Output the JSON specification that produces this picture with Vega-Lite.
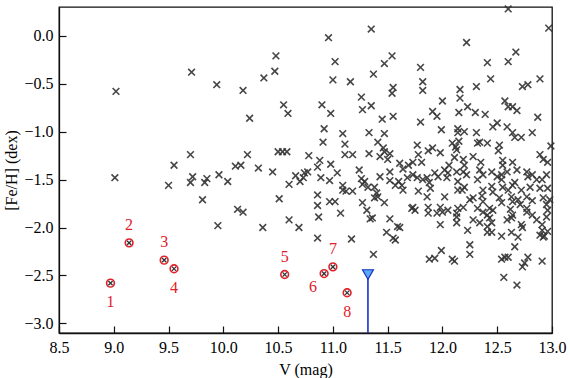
{
 "$schema": "https://vega.github.io/schema/vega-lite/v6.json",
 "width": 493, "height": 326,
 "autosize": {"type": "none"},
 "padding": {"left": 59, "top": 7, "right": 18, "bottom": 45},
 "background": "white",
 "config": {
  "view": {"stroke": "#111111", "strokeWidth": 1.3},
  "font": "Times New Roman, Liberation Serif, serif",
  "axis": {"grid": false, "domain": true, "domainColor": "#111111", "domainWidth": 1.3, "tickColor": "#111111", "tickSize": -7, "tickWidth": 1.2, "labelFontSize": 16, "labelColor": "#000000", "labelPadding": 13, "titleFontSize": 16, "titleFontWeight": "normal", "titleColor": "#000000", "labelFont": "Times New Roman, Liberation Serif, serif", "titleFont": "Times New Roman, Liberation Serif, serif"}
 },
 "datasets": {
  "stars": [
   {"V":9.02,"FeH":-0.58},{"V":9.01,"FeH":-1.48},{"V":9.71,"FeH":-0.38},{"V":9.55,"FeH":-1.35},{"V":9.70,"FeH":-1.24},{"V":9.50,"FeH":-1.56},{"V":9.72,"FeH":-1.47},{"V":9.70,"FeH":-1.53},{"V":9.94,"FeH":-0.51},{"V":10.18,"FeH":-0.57},
   {"V":10.37,"FeH":-0.44},{"V":10.47,"FeH":-0.37},{"V":10.48,"FeH":-0.21},{"V":10.24,"FeH":-0.86},{"V":10.55,"FeH":-0.72},{"V":10.59,"FeH":-0.81},{"V":10.96,"FeH":-0.02},{"V":11.02,"FeH":-0.27},{"V":11.00,"FeH":-0.46},{"V":11.16,"FeH":-0.48},
   {"V":11.35,"FeH":0.07},{"V":11.37,"FeH":-0.40},{"V":11.26,"FeH":-0.64},{"V":11.27,"FeH":-0.77},{"V":11.35,"FeH":-0.73},{"V":10.90,"FeH":-0.72},{"V":10.98,"FeH":-0.81},{"V":10.92,"FeH":-0.97},{"V":10.91,"FeH":-1.11},{"V":11.09,"FeH":-1.02},
   {"V":11.11,"FeH":-1.13},{"V":11.33,"FeH":-1.01},{"V":11.11,"FeH":-1.24},{"V":11.18,"FeH":-1.24},{"V":11.33,"FeH":-1.23},{"V":11.41,"FeH":-1.11},{"V":10.22,"FeH":-1.24},{"V":10.11,"FeH":-1.36},{"V":10.16,"FeH":-1.35},{"V":10.32,"FeH":-1.38},
   {"V":10.45,"FeH":-1.42},{"V":10.50,"FeH":-1.21},{"V":10.54,"FeH":-1.21},{"V":10.58,"FeH":-1.21},{"V":10.78,"FeH":-1.25},{"V":10.88,"FeH":-1.30},{"V":10.86,"FeH":-1.37},{"V":10.98,"FeH":-1.34},{"V":11.04,"FeH":-1.43},{"V":11.24,"FeH":-1.40},
   {"V":9.83,"FeH":-1.53},{"V":9.85,"FeH":-1.49},{"V":9.96,"FeH":-1.45},{"V":10.04,"FeH":-1.52},{"V":10.60,"FeH":-1.55},{"V":10.66,"FeH":-1.46},{"V":10.70,"FeH":-1.52},{"V":10.74,"FeH":-1.43},{"V":10.73,"FeH":-1.48},{"V":10.77,"FeH":-1.42},
   {"V":10.89,"FeH":-1.48},{"V":10.97,"FeH":-1.51},{"V":11.09,"FeH":-1.56},{"V":11.26,"FeH":-1.49},{"V":11.29,"FeH":-1.52},{"V":9.81,"FeH":-1.71},{"V":10.13,"FeH":-1.81},{"V":10.18,"FeH":-1.84},{"V":9.95,"FeH":-1.98},{"V":10.36,"FeH":-2.00},
   {"V":10.51,"FeH":-1.70},{"V":10.60,"FeH":-1.92},{"V":10.69,"FeH":-2.00},{"V":10.86,"FeH":-1.66},{"V":10.86,"FeH":-1.77},{"V":10.87,"FeH":-1.89},{"V":10.86,"FeH":-2.11},{"V":10.97,"FeH":-1.73},{"V":11.02,"FeH":-1.73},{"V":11.07,"FeH":-1.85},
   {"V":11.17,"FeH":-2.12},{"V":11.27,"FeH":-1.74},{"V":11.31,"FeH":-1.82},{"V":11.34,"FeH":-1.91},{"V":11.37,"FeH":-2.28},{"V":11.12,"FeH":-1.62},{"V":11.09,"FeH":-1.61},{"V":11.18,"FeH":-1.62},{"V":11.27,"FeH":-1.55},{"V":11.32,"FeH":-1.58},
   {"V":11.45,"FeH":-0.87},{"V":11.55,"FeH":-0.84},{"V":11.91,"FeH":-0.79},{"V":11.95,"FeH":-0.84},{"V":11.80,"FeH":-0.90},{"V":11.99,"FeH":-0.98},{"V":11.47,"FeH":-1.02},{"V":12.14,"FeH":-1.01},{"V":11.46,"FeH":-1.17},{"V":11.47,"FeH":-1.21},
   {"V":11.77,"FeH":-1.14},{"V":11.43,"FeH":-1.26},{"V":11.52,"FeH":-1.23},{"V":11.50,"FeH":-1.29},{"V":11.87,"FeH":-1.20},{"V":11.91,"FeH":-1.17},{"V":11.98,"FeH":-1.22},{"V":11.78,"FeH":-1.24},{"V":11.81,"FeH":-1.32},{"V":11.73,"FeH":-1.32},
   {"V":11.69,"FeH":-1.35},{"V":11.61,"FeH":-1.33},{"V":11.64,"FeH":-1.39},{"V":12.09,"FeH":-1.12},{"V":12.13,"FeH":-1.19},{"V":12.11,"FeH":-1.27},{"V":12.06,"FeH":-1.35},{"V":12.02,"FeH":-1.40},{"V":12.13,"FeH":-1.42},{"V":11.52,"FeH":-1.42},
   {"V":11.52,"FeH":-1.51},{"V":11.43,"FeH":-1.47},{"V":11.73,"FeH":-1.45},{"V":11.77,"FeH":-1.48},{"V":11.82,"FeH":-1.50},{"V":11.86,"FeH":-1.48},{"V":11.88,"FeH":-1.53},{"V":11.89,"FeH":-1.59},{"V":11.93,"FeH":-1.43},{"V":11.96,"FeH":-1.47},
   {"V":12.04,"FeH":-1.48},{"V":12.05,"FeH":-1.43},{"V":11.60,"FeH":-1.52},{"V":11.63,"FeH":-1.56},{"V":11.64,"FeH":-1.61},{"V":11.57,"FeH":-1.56},{"V":11.68,"FeH":-1.48},{"V":12.14,"FeH":-1.52},{"V":12.14,"FeH":-1.61},{"V":11.38,"FeH":-1.58},
   {"V":11.40,"FeH":-1.64},{"V":11.41,"FeH":-1.68},{"V":11.38,"FeH":-1.69},{"V":11.47,"FeH":-1.74},{"V":11.78,"FeH":-1.62},{"V":11.86,"FeH":-1.68},{"V":11.87,"FeH":-1.79},{"V":12.02,"FeH":-1.68},{"V":11.73,"FeH":-1.79},{"V":11.75,"FeH":-1.82},
   {"V":11.98,"FeH":-1.79},{"V":11.95,"FeH":-1.85},{"V":12.00,"FeH":-1.84},{"V":12.05,"FeH":-1.82},{"V":12.13,"FeH":-1.85},{"V":11.36,"FeH":-1.90},{"V":11.52,"FeH":-1.91},{"V":11.59,"FeH":-1.99},{"V":11.61,"FeH":-2.00},{"V":11.49,"FeH":-2.05},
   {"V":11.98,"FeH":-1.97},{"V":12.13,"FeH":-1.95},{"V":11.55,"FeH":-2.11},{"V":11.54,"FeH":-0.21},{"V":11.47,"FeH":-0.29},{"V":11.80,"FeH":-0.33},{"V":11.82,"FeH":-0.48},{"V":11.82,"FeH":-0.57},{"V":11.55,"FeH":-0.54},{"V":11.54,"FeH":-0.60},
   {"V":12.00,"FeH":-0.68},{"V":12.16,"FeH":-0.56},{"V":12.16,"FeH":-0.65},{"V":12.15,"FeH":-0.80},{"V":12.14,"FeH":-0.97},{"V":12.15,"FeH":-1.10},{"V":12.12,"FeH":-1.16},
   {"V":12.60,"FeH":0.28},{"V":12.97,"FeH":0.08},{"V":12.22,"FeH":-0.07},{"V":12.67,"FeH":-0.17},{"V":12.41,"FeH":-0.28},{"V":12.60,"FeH":-0.27},{"V":12.44,"FeH":-0.45},{"V":12.31,"FeH":-0.53},{"V":12.89,"FeH":-0.45},{"V":12.78,"FeH":-0.51},
   {"V":12.73,"FeH":-0.53},{"V":12.57,"FeH":-0.68},{"V":12.60,"FeH":-0.74},{"V":12.64,"FeH":-0.74},{"V":12.68,"FeH":-0.78},{"V":12.23,"FeH":-0.74},{"V":12.30,"FeH":-0.80},{"V":12.39,"FeH":-0.82},{"V":12.87,"FeH":-0.85},{"V":12.20,"FeH":-1.00},
   {"V":12.31,"FeH":-1.01},{"V":12.50,"FeH":-0.91},{"V":12.46,"FeH":-0.95},{"V":12.59,"FeH":-0.95},{"V":12.64,"FeH":-1.01},{"V":12.66,"FeH":-1.06},{"V":12.72,"FeH":-1.06},{"V":12.82,"FeH":-1.01},{"V":12.34,"FeH":-1.11},{"V":12.41,"FeH":-1.12},
   {"V":12.52,"FeH":-1.14},{"V":12.99,"FeH":-1.15},{"V":12.51,"FeH":-1.20},{"V":12.32,"FeH":-1.12},{"V":12.19,"FeH":-1.29},{"V":12.20,"FeH":-1.35},{"V":12.28,"FeH":-1.26},{"V":12.35,"FeH":-1.32},{"V":12.55,"FeH":-1.30},{"V":12.55,"FeH":-1.35},
   {"V":12.64,"FeH":-1.32},{"V":12.89,"FeH":-1.24},{"V":12.92,"FeH":-1.29},{"V":12.96,"FeH":-1.32},{"V":12.19,"FeH":-1.42},{"V":12.22,"FeH":-1.45},{"V":12.34,"FeH":-1.40},{"V":12.37,"FeH":-1.45},{"V":12.32,"FeH":-1.50},{"V":12.45,"FeH":-1.42},
   {"V":12.50,"FeH":-1.47},{"V":12.54,"FeH":-1.45},{"V":12.54,"FeH":-1.50},{"V":12.59,"FeH":-1.42},{"V":12.68,"FeH":-1.40},{"V":12.77,"FeH":-1.42},{"V":12.78,"FeH":-1.47},{"V":12.82,"FeH":-1.45},{"V":12.86,"FeH":-1.50},{"V":12.91,"FeH":-1.50},
   {"V":12.95,"FeH":-1.45},{"V":12.66,"FeH":-1.53},{"V":12.64,"FeH":-1.56},{"V":12.20,"FeH":-1.58},{"V":12.18,"FeH":-1.61},{"V":12.37,"FeH":-1.61},{"V":12.45,"FeH":-1.57},{"V":12.46,"FeH":-1.63},{"V":12.55,"FeH":-1.58},{"V":12.60,"FeH":-1.61},
   {"V":12.72,"FeH":-1.61},{"V":12.80,"FeH":-1.58},{"V":12.89,"FeH":-1.59},{"V":12.96,"FeH":-1.59},{"V":12.28,"FeH":-1.69},{"V":12.25,"FeH":-1.71},{"V":12.36,"FeH":-1.67},{"V":12.37,"FeH":-1.73},{"V":12.52,"FeH":-1.69},{"V":12.54,"FeH":-1.74},
   {"V":12.63,"FeH":-1.68},{"V":12.64,"FeH":-1.73},{"V":12.69,"FeH":-1.71},{"V":12.77,"FeH":-1.68},{"V":12.82,"FeH":-1.72},{"V":12.92,"FeH":-1.69},{"V":12.95,"FeH":-1.76},{"V":12.19,"FeH":-1.79},{"V":12.32,"FeH":-1.80},{"V":12.37,"FeH":-1.84},
   {"V":12.46,"FeH":-1.82},{"V":12.62,"FeH":-1.81},{"V":12.64,"FeH":-1.87},{"V":12.77,"FeH":-1.84},{"V":12.82,"FeH":-1.87},{"V":12.95,"FeH":-1.89},{"V":12.96,"FeH":-1.82},{"V":12.28,"FeH":-1.92},{"V":12.34,"FeH":-1.95},{"V":12.43,"FeH":-1.90},
   {"V":12.45,"FeH":-1.95},{"V":12.59,"FeH":-1.92},{"V":12.72,"FeH":-1.97},{"V":12.73,"FeH":-2.00},{"V":12.86,"FeH":-1.92},{"V":12.91,"FeH":-1.97},{"V":12.23,"FeH":-2.03},{"V":12.41,"FeH":-2.05},{"V":12.54,"FeH":-2.09},{"V":12.63,"FeH":-2.05},
   {"V":12.89,"FeH":-2.08},{"V":12.93,"FeH":-2.09},{"V":12.96,"FeH":-2.04},{"V":11.72,"FeH":-1.80},{"V":11.87,"FeH":-1.85},{"V":12.14,"FeH":-1.80},{"V":12.13,"FeH":-1.89},{"V":12.41,"FeH":-1.87},{"V":12.43,"FeH":-1.80},{"V":12.41,"FeH":-1.99},
   {"V":12.45,"FeH":-2.05},{"V":12.63,"FeH":-1.90},{"V":12.71,"FeH":-1.76},{"V":12.77,"FeH":-1.80},{"V":12.91,"FeH":-2.03},{"V":12.92,"FeH":-2.10},{"V":12.98,"FeH":-1.71},{"V":11.57,"FeH":-2.13},{"V":12.66,"FeH":-2.20},{"V":12.25,"FeH":-2.18},
   {"V":12.25,"FeH":-2.28},{"V":11.88,"FeH":-2.33},{"V":11.93,"FeH":-2.32},{"V":11.99,"FeH":-2.24},{"V":12.09,"FeH":-2.33},{"V":12.11,"FeH":-2.35},{"V":12.54,"FeH":-2.33},{"V":12.57,"FeH":-2.31},{"V":12.60,"FeH":-2.31},{"V":12.56,"FeH":-2.52},
   {"V":12.68,"FeH":-2.60},{"V":12.73,"FeH":-2.41},{"V":12.75,"FeH":-2.37},{"V":12.78,"FeH":-2.31},{"V":12.91,"FeH":-2.35},{"V":12.69,"FeH":-2.10}
  ],
  "red": [
   {"id":1,"label":"1","V":8.97,"FeH":-2.58},
   {"id":2,"label":"2","V":9.14,"FeH":-2.16},
   {"id":3,"label":"3","V":9.46,"FeH":-2.34},
   {"id":4,"label":"4","V":9.55,"FeH":-2.43},
   {"id":5,"label":"5","V":10.56,"FeH":-2.49},
   {"id":6,"label":"6","V":10.92,"FeH":-2.48},
   {"id":7,"label":"7","V":11.00,"FeH":-2.41},
   {"id":8,"label":"8","V":11.13,"FeH":-2.68}
  ],
  "limit": [
   {"V":11.32,"FeH":-2.49,"FeH_low":-3.1}
  ]
 },
 "encoding": {
  "x": {"field": "V", "type": "quantitative", "scale": {"domain": [8.5, 13.0], "nice": false, "zero": false},
        "axis": {"title": "V (mag)", "values": [8.5, 9.0, 9.5, 10.0, 10.5, 11.0, 11.5, 12.0, 12.5, 13.0], "format": ".1f", "titlePadding": 6, "labelFlush": false}},
  "y": {"field": "FeH", "type": "quantitative", "scale": {"domain": [-3.1, 0.3], "nice": false, "zero": false},
        "axis": {"title": "[Fe/H] (dex)", "values": [-3.0, -2.5, -2.0, -1.5, -1.0, -0.5, 0.0], "format": ".1f", "titlePadding": 4, "labelFlush": false}}
 },
 "layer": [
  {"data": {"name": "stars"}, "mark": {"type": "point", "shape": "M-1,-1L1,1M-1,1L1,-1", "size": 45, "filled": false, "color": "#333333", "strokeWidth": 1.6, "opacity": 0.9}},
  {"data": {"name": "limit"}, "mark": {"type": "rule", "color": "#1a2fc4", "strokeWidth": 1.6}, "encoding": {"y2": {"field": "FeH_low"}}},
  {"data": {"name": "limit"}, "mark": {"type": "point", "shape": "triangle-down", "size": 120, "filled": true, "fill": "#5aaaf2", "stroke": "#1a2fc4", "strokeWidth": 1.2, "opacity": 1}},
  {"data": {"name": "red"}, "mark": {"type": "point", "shape": "circle", "size": 60, "filled": false, "color": "#e0202a", "strokeWidth": 1.6, "opacity": 1}},
  {"data": {"name": "red"}, "mark": {"type": "point", "shape": "M-1,-1L1,1M-1,1L1,-1", "size": 18, "filled": false, "color": "#333333", "strokeWidth": 1.3, "opacity": 1}},
  {"data": {"name": "red"}, "transform": [{"filter": {"field": "id", "oneOf": [2, 3, 5, 7]}}], "mark": {"type": "text", "color": "#e0202a", "fontSize": 16, "font": "Times New Roman, Liberation Serif, serif", "dy": -18, "baseline": "middle"}, "encoding": {"text": {"field": "label"}}},
  {"data": {"name": "red"}, "transform": [{"filter": {"field": "id", "oneOf": [1, 4, 8]}}], "mark": {"type": "text", "color": "#e0202a", "fontSize": 16, "font": "Times New Roman, Liberation Serif, serif", "dy": 19, "baseline": "middle"}, "encoding": {"text": {"field": "label"}}},
  {"data": {"name": "red"}, "transform": [{"filter": {"field": "id", "oneOf": [6]}}], "mark": {"type": "text", "color": "#e0202a", "fontSize": 16, "font": "Times New Roman, Liberation Serif, serif", "dx": -11, "dy": 13, "baseline": "middle"}, "encoding": {"text": {"field": "label"}}}
 ]
}
